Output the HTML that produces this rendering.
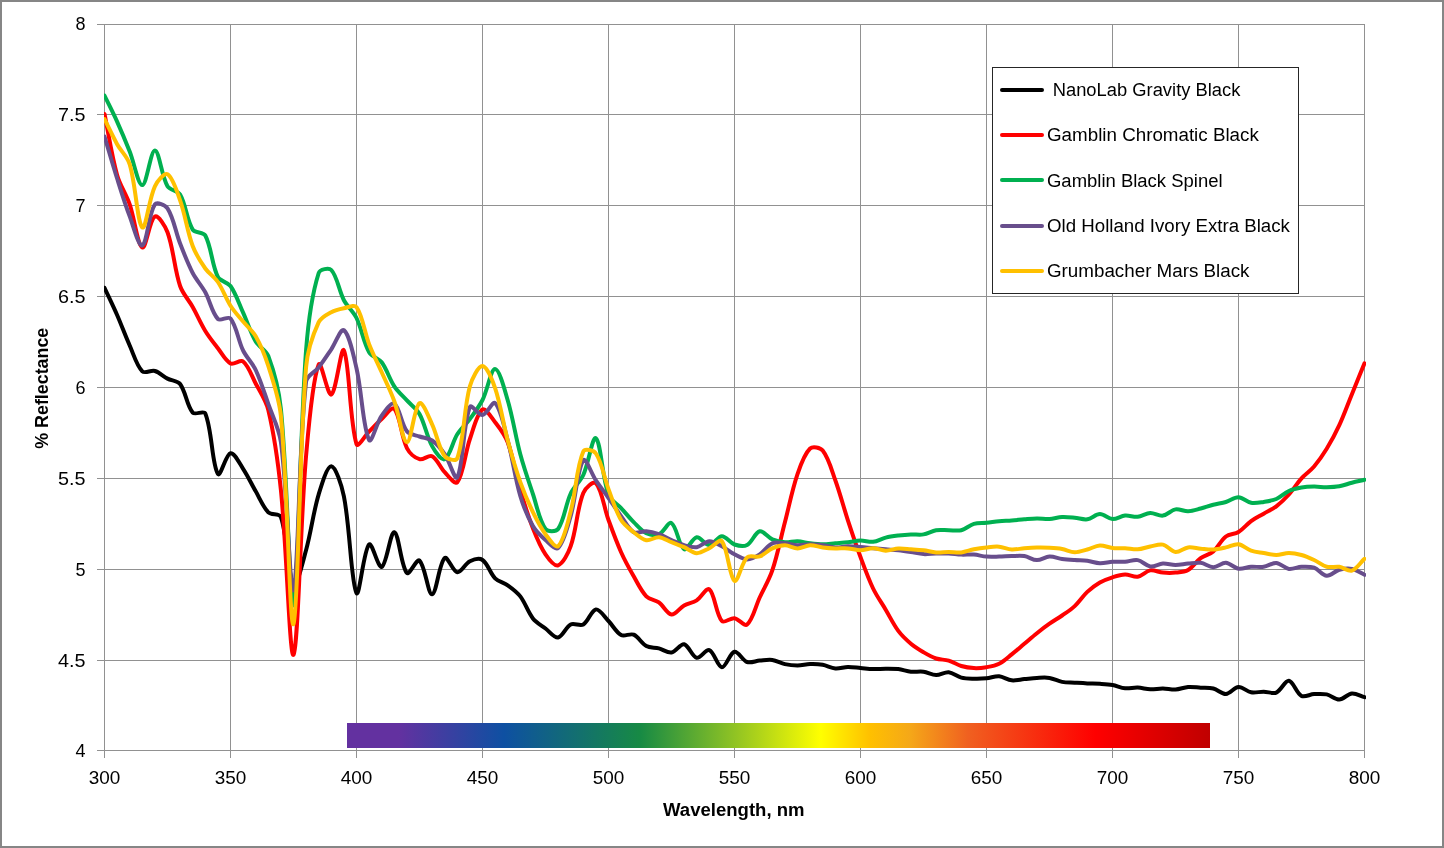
<!DOCTYPE html>
<html><head><meta charset="utf-8"><title>% Reflectance vs Wavelength</title>
<style>
html,body{margin:0;padding:0;background:#fff;}
svg{display:block;will-change:transform;}
text{font-family:"Liberation Sans",Arial,sans-serif;fill:#000;}
</style></head><body>
<svg width="1444" height="848" viewBox="0 0 1444 848">
<rect x="0" y="0" width="1444" height="848" fill="#fff"/>
<defs><linearGradient id="spec" x1="0" y1="0" x2="1" y2="0">
<stop offset="0.000" stop-color="#6331A0"/>
<stop offset="0.060" stop-color="#6331A0"/>
<stop offset="0.182" stop-color="#0E50A2"/>
<stop offset="0.340" stop-color="#178A44"/>
<stop offset="0.451" stop-color="#92C423"/>
<stop offset="0.549" stop-color="#FFFF00"/>
<stop offset="0.606" stop-color="#FFC000"/>
<stop offset="0.652" stop-color="#F5A818"/>
<stop offset="0.720" stop-color="#F06020"/>
<stop offset="0.867" stop-color="#FF0000"/>
<stop offset="1.000" stop-color="#C00000"/>
</linearGradient><clipPath id="pa"><rect x="104" y="0" width="1262" height="848"/></clipPath></defs>
<path d="M97 24.5H1365 M97 114.5H1365 M97 205.5H1365 M97 296.5H1365 M97 387.5H1365 M97 478.5H1365 M97 569.5H1365 M97 660.5H1365 M97 750.5H1365 M104.5 24V758 M230.5 24V758 M356.5 24V758 M482.5 24V758 M608.5 24V758 M734.5 24V758 M860.5 24V758 M986.5 24V758 M1112.5 24V758 M1238.5 24V758 M1364.5 24V758" stroke="#919191" stroke-width="1" fill="none"/>
<rect x="347" y="723" width="863" height="25" fill="url(#spec)"/>
<g clip-path="url(#pa)">
<path d="M104.50 287.80 C108.70 296.87 113.10 305.85 117.10 315.00 C121.50 325.08 125.21 335.46 129.70 345.50 C133.61 354.23 136.46 365.39 142.30 371.30 C144.86 373.89 151.02 369.88 154.90 371.00 C159.42 372.31 163.15 376.36 167.50 378.60 C171.55 380.69 177.54 380.54 180.10 384.00 C185.94 391.88 186.72 405.57 192.70 412.60 C195.12 415.44 203.87 410.12 205.30 413.60 C212.27 430.59 211.87 464.53 217.90 474.00 C220.27 477.73 225.90 454.15 230.50 453.20 C234.30 452.42 239.43 463.24 243.10 468.80 C247.83 475.94 251.39 483.86 255.70 491.30 C259.79 498.36 262.88 506.77 268.30 512.30 C271.28 515.34 279.53 513.05 280.90 517.00 C287.93 537.29 288.04 577.85 293.50 585.00 C296.44 588.85 302.79 561.93 306.10 550.00 C311.19 531.69 313.24 512.45 318.70 494.30 C321.64 484.51 327.22 465.88 331.30 466.20 C335.62 466.54 341.79 485.70 343.90 496.30 C350.19 527.97 350.95 582.42 356.50 593.00 C359.35 598.45 363.56 550.12 369.10 544.40 C371.96 541.45 378.24 568.67 381.70 567.00 C386.64 564.61 390.40 531.27 394.30 532.20 C398.80 533.27 400.96 566.31 406.90 573.00 C409.36 575.77 416.73 558.26 419.50 560.60 C425.13 565.36 428.04 594.72 432.10 594.30 C436.44 593.85 439.09 562.90 444.70 558.00 C447.49 555.57 452.83 571.71 457.30 572.30 C461.23 572.81 465.12 563.63 469.90 561.30 C473.52 559.53 479.45 557.94 482.50 560.00 C487.85 563.61 490.01 573.18 495.10 578.30 C498.41 581.62 503.82 582.51 507.70 585.30 C512.22 588.55 516.95 592.00 520.30 596.40 C525.35 603.04 527.77 611.86 532.90 618.40 C536.17 622.56 541.21 625.25 545.50 628.50 C549.61 631.62 554.23 638.11 558.10 637.50 C562.63 636.78 565.75 627.06 570.70 624.50 C574.15 622.72 580.02 626.47 583.30 624.50 C588.42 621.43 591.41 610.02 595.90 609.40 C599.81 608.86 604.50 616.94 608.50 621.00 C612.90 625.47 616.07 632.26 621.10 635.00 C624.47 636.83 630.11 633.13 633.70 634.70 C638.51 636.80 641.52 643.40 646.30 646.00 C649.92 647.97 654.77 647.33 658.90 648.40 C663.17 649.50 667.57 653.15 671.50 652.50 C675.97 651.75 680.33 643.41 684.10 644.20 C688.73 645.17 692.02 656.71 696.70 657.80 C700.42 658.67 705.86 648.82 709.30 650.10 C714.26 651.95 717.57 666.93 721.90 667.20 C725.97 667.46 729.87 652.66 734.50 651.70 C738.27 650.92 742.38 660.33 747.10 662.00 C750.78 663.30 755.49 660.95 759.70 660.60 C763.89 660.25 768.21 659.33 772.30 659.90 C776.61 660.50 780.60 663.14 784.90 664.10 C789.00 665.01 793.30 665.50 797.50 665.50 C801.70 665.50 805.89 664.22 810.10 664.10 C814.29 663.98 818.58 664.10 822.70 664.80 C826.98 665.53 831.03 668.03 835.30 668.40 C839.43 668.76 843.69 667.07 847.90 667.00 C852.09 666.93 856.30 667.65 860.50 668.00 C864.70 668.35 868.89 668.98 873.10 669.10 C877.29 669.22 881.50 668.70 885.70 668.70 C889.90 668.70 894.14 668.61 898.30 669.10 C902.54 669.61 906.66 671.26 910.90 671.70 C915.06 672.13 919.37 671.14 923.50 671.70 C927.77 672.28 931.88 675.00 936.10 675.10 C940.28 675.20 944.62 671.90 948.70 672.30 C953.02 672.73 956.94 676.49 961.30 677.60 C965.34 678.63 969.69 678.58 973.90 678.70 C978.09 678.82 982.33 678.70 986.50 678.30 C990.73 677.90 994.97 675.97 999.10 676.30 C1003.37 676.64 1007.41 679.82 1011.70 680.30 C1015.81 680.76 1020.10 679.50 1024.30 679.10 C1028.50 678.70 1032.69 678.10 1036.90 677.90 C1041.09 677.70 1045.40 677.25 1049.50 677.90 C1053.80 678.58 1057.80 681.08 1062.10 681.90 C1066.20 682.68 1070.50 682.45 1074.70 682.70 C1078.90 682.95 1083.10 683.22 1087.30 683.40 C1091.50 683.58 1095.71 683.53 1099.90 683.80 C1104.11 684.07 1108.36 684.26 1112.50 685.00 C1116.76 685.76 1120.83 687.86 1125.10 688.30 C1129.23 688.73 1133.52 687.43 1137.70 687.60 C1141.92 687.77 1146.09 689.15 1150.30 689.30 C1154.49 689.45 1158.70 688.45 1162.90 688.50 C1167.10 688.55 1171.34 689.85 1175.50 689.60 C1179.74 689.35 1183.86 687.32 1188.10 687.00 C1192.26 686.69 1196.50 687.45 1200.70 687.70 C1204.90 687.95 1209.28 687.49 1213.30 688.50 C1217.68 689.59 1221.80 694.24 1225.90 694.00 C1230.20 693.74 1234.19 687.29 1238.50 687.00 C1242.59 686.72 1246.73 691.49 1251.10 692.30 C1255.13 693.05 1259.50 691.65 1263.70 691.70 C1267.90 691.75 1272.75 694.14 1276.30 692.60 C1281.15 690.50 1284.97 680.29 1288.90 680.80 C1293.37 681.39 1296.40 693.21 1301.50 695.90 C1304.80 697.64 1309.88 694.35 1314.10 694.10 C1318.28 693.85 1322.66 693.53 1326.70 694.40 C1331.06 695.33 1335.16 699.65 1339.30 699.50 C1343.56 699.35 1347.57 693.89 1351.90 693.50 C1355.97 693.13 1360.30 695.97 1364.50 697.20" stroke="#000000" stroke-width="4" fill="none" stroke-linejoin="round" stroke-linecap="round"/>
<path d="M104.50 114.00 C108.70 134.33 111.55 155.09 117.10 175.00 C119.95 185.22 126.21 194.35 129.70 204.40 C134.61 218.51 137.49 245.21 142.30 247.50 C145.89 249.21 149.67 219.56 154.90 216.40 C158.07 214.49 165.24 226.06 167.50 232.30 C173.64 249.26 174.28 268.76 180.10 286.00 C182.68 293.66 188.71 299.88 192.70 307.00 C197.11 314.88 200.61 323.31 205.30 331.00 C209.01 337.07 213.52 342.67 217.90 348.30 C221.92 353.47 225.40 360.73 230.50 363.40 C233.80 365.13 240.29 359.26 243.10 361.50 C248.69 365.96 251.81 376.01 255.70 383.50 C260.21 392.17 266.07 400.56 268.30 410.00 C274.47 436.06 278.14 463.17 280.90 490.00 C286.54 544.73 289.70 659.89 293.50 654.70 C298.10 648.43 300.35 521.81 306.10 455.60 C308.75 425.08 312.50 379.54 318.70 364.50 C320.90 359.18 327.82 396.46 331.30 394.50 C336.22 391.73 341.15 344.90 343.90 350.30 C349.55 361.43 349.43 421.32 356.50 444.10 C357.83 448.39 364.89 435.69 369.10 431.50 C373.29 427.32 377.32 422.96 381.70 419.00 C385.72 415.36 391.93 405.96 394.30 408.70 C400.33 415.66 400.93 436.13 406.90 448.10 C409.33 452.96 414.76 457.68 419.50 459.20 C423.16 460.38 428.83 454.52 432.10 456.20 C437.23 458.85 440.01 467.36 444.70 472.20 C448.41 476.02 455.09 485.11 457.30 482.20 C463.49 474.05 465.00 453.15 469.90 439.00 C473.40 428.91 477.11 413.10 482.50 409.50 C485.51 407.50 491.49 417.50 495.10 422.20 C499.89 428.43 504.97 434.96 507.70 442.30 C513.37 457.56 515.67 474.23 520.30 490.00 C524.07 502.86 528.02 515.74 532.90 528.20 C536.42 537.18 540.17 546.46 545.50 554.30 C548.57 558.83 554.55 566.44 558.10 565.30 C562.95 563.74 568.22 553.31 570.70 546.20 C576.62 529.21 576.80 509.25 583.30 493.00 C585.20 488.25 593.46 480.58 595.90 483.20 C601.86 489.58 604.05 507.82 608.50 520.00 C612.45 530.82 616.40 541.70 621.10 552.20 C624.80 560.46 629.21 568.44 633.70 576.30 C637.61 583.14 641.02 590.84 646.30 596.30 C649.42 599.54 655.16 599.70 658.90 602.40 C663.56 605.77 667.05 613.97 671.50 614.50 C675.45 614.97 679.61 607.91 684.10 605.40 C688.01 603.21 692.95 602.80 696.70 600.40 C701.35 597.43 706.53 587.03 709.30 589.30 C714.93 593.90 715.81 614.01 721.90 621.00 C724.21 623.64 730.48 617.64 734.50 618.20 C738.88 618.81 744.40 626.72 747.10 624.50 C752.80 619.82 755.51 606.50 759.70 597.50 C763.91 588.47 769.15 579.81 772.30 570.40 C777.55 554.74 780.70 538.33 784.90 522.30 C789.10 506.23 792.16 489.74 797.50 474.10 C800.56 465.14 804.30 453.94 810.10 448.50 C812.70 446.07 820.32 447.51 822.70 450.50 C828.72 458.07 831.65 470.10 835.30 480.20 C840.05 493.36 843.53 506.99 847.90 520.30 C851.93 532.59 856.02 544.87 860.50 557.00 C864.42 567.60 868.24 578.33 873.10 588.50 C876.64 595.89 881.50 602.63 885.70 609.70 C889.90 616.77 893.44 624.34 898.30 630.90 C901.84 635.68 906.35 639.85 910.90 643.70 C914.75 646.95 919.14 649.64 923.50 652.20 C927.54 654.57 931.69 657.03 936.10 658.50 C940.09 659.83 944.65 659.39 948.70 660.60 C953.05 661.89 956.95 664.71 961.30 666.00 C965.35 667.21 969.68 667.90 973.90 668.10 C978.08 668.30 982.37 667.90 986.50 667.20 C990.77 666.47 995.29 665.74 999.10 663.80 C1003.69 661.47 1007.60 657.66 1011.70 654.40 C1016.00 650.99 1020.10 647.33 1024.30 643.80 C1028.50 640.27 1032.61 636.62 1036.90 633.20 C1041.01 629.92 1045.20 626.72 1049.50 623.70 C1053.60 620.82 1057.99 618.37 1062.10 615.50 C1066.39 612.50 1070.90 609.66 1074.70 606.10 C1079.30 601.80 1082.70 596.20 1087.30 591.90 C1091.10 588.34 1095.40 585.11 1099.90 582.50 C1103.80 580.24 1108.19 578.67 1112.50 577.30 C1116.59 576.00 1120.88 574.60 1125.10 574.50 C1129.28 574.40 1133.70 577.35 1137.70 576.70 C1142.10 575.98 1145.90 571.12 1150.30 570.40 C1154.30 569.75 1158.67 572.23 1162.90 572.60 C1167.07 572.96 1171.35 573.04 1175.50 572.60 C1179.75 572.14 1184.50 571.96 1188.10 569.90 C1192.90 567.16 1196.12 561.56 1200.70 558.20 C1204.52 555.40 1209.75 554.46 1213.30 551.40 C1218.15 547.23 1220.92 540.34 1225.90 536.50 C1229.32 533.87 1234.76 534.29 1238.50 532.00 C1243.16 529.15 1246.62 524.35 1251.10 521.10 C1255.02 518.25 1259.50 516.17 1263.70 513.70 C1267.90 511.23 1272.45 509.23 1276.30 506.30 C1280.85 502.83 1285.06 498.76 1288.90 494.50 C1293.46 489.43 1296.94 483.37 1301.50 478.30 C1305.34 474.04 1310.38 470.85 1314.10 466.50 C1318.78 461.02 1322.94 454.97 1326.70 448.80 C1331.34 441.20 1335.57 433.29 1339.30 425.20 C1343.97 415.09 1347.69 404.53 1351.90 394.20 C1356.09 383.90 1360.30 373.60 1364.50 363.30" stroke="#FF0000" stroke-width="4" fill="none" stroke-linejoin="round" stroke-linecap="round"/>
<path d="M104.50 95.50 C108.70 104.20 113.14 112.79 117.10 121.60 C121.54 131.46 125.71 141.45 129.70 151.50 C134.11 162.62 138.15 185.26 142.30 185.10 C146.55 184.93 150.76 150.32 154.90 150.50 C159.16 150.69 161.49 175.71 167.50 186.20 C169.89 190.38 177.68 190.33 180.10 194.50 C186.08 204.80 186.58 219.65 192.70 229.60 C194.98 233.31 203.26 231.66 205.30 235.50 C211.66 247.46 211.71 264.60 217.90 277.00 C220.11 281.43 227.60 281.91 230.50 286.00 C236.00 293.78 239.04 303.67 243.10 312.60 C247.44 322.17 250.48 332.51 255.70 341.50 C258.88 346.98 266.11 350.13 268.30 356.00 C274.51 372.63 279.08 390.98 280.90 409.00 C287.48 473.98 289.85 613.55 293.50 605.00 C298.25 593.88 299.67 434.76 306.10 350.00 C308.07 324.10 311.50 295.87 318.70 273.00 C319.90 269.20 328.92 267.43 331.30 270.00 C337.32 276.50 338.86 290.60 343.90 300.20 C347.26 306.60 353.36 311.51 356.50 318.00 C361.76 328.84 363.28 341.97 369.10 352.20 C371.68 356.73 378.56 358.06 381.70 362.30 C386.96 369.42 389.35 378.82 394.30 386.30 C397.75 391.52 402.66 395.74 406.90 400.40 C411.06 404.97 416.56 408.67 419.50 414.00 C424.96 423.91 426.60 436.23 432.10 446.10 C435.00 451.30 441.39 460.75 444.70 459.20 C449.79 456.82 452.39 442.14 457.30 434.30 C460.79 428.74 465.99 424.32 469.90 419.00 C474.39 412.88 479.09 406.75 482.50 400.00 C487.49 390.12 490.91 369.07 495.10 369.10 C499.31 369.13 504.54 389.50 507.70 400.20 C512.94 417.90 515.50 436.43 520.30 454.30 C523.90 467.70 528.46 480.85 532.90 494.00 C536.86 505.75 539.23 520.29 545.50 529.00 C547.63 531.95 555.99 531.97 558.10 529.00 C564.39 520.13 565.43 504.79 570.70 493.50 C573.83 486.79 580.23 481.73 583.30 475.00 C588.63 463.33 592.54 435.63 595.90 438.30 C600.94 442.30 602.10 477.28 608.50 495.00 C610.50 500.55 616.97 503.66 621.10 508.10 C625.37 512.70 629.26 517.68 633.70 522.10 C637.66 526.04 641.51 530.90 646.30 533.20 C649.91 534.93 655.29 535.65 658.90 534.20 C663.69 532.28 668.42 521.27 671.50 523.10 C676.82 526.27 678.85 546.26 684.10 549.20 C687.25 550.96 692.18 537.92 696.70 537.20 C700.58 536.58 705.18 545.36 709.30 545.20 C713.58 545.03 717.65 536.32 721.90 536.20 C726.05 536.08 729.92 542.90 734.50 544.50 C738.32 545.84 743.71 546.78 747.10 545.00 C752.11 542.38 755.04 532.35 759.70 531.30 C763.44 530.45 767.80 537.34 772.30 539.30 C776.20 541.00 780.65 541.96 784.90 542.30 C789.05 542.63 793.32 541.13 797.50 541.30 C801.72 541.47 805.88 542.80 810.10 543.30 C814.28 543.80 818.50 544.30 822.70 544.30 C826.90 544.30 831.10 543.63 835.30 543.30 C839.50 542.97 843.71 542.77 847.90 542.30 C852.11 541.83 856.29 540.58 860.50 540.50 C864.69 540.42 869.00 542.27 873.10 541.80 C877.40 541.31 881.42 538.67 885.70 537.60 C889.82 536.57 894.08 536.04 898.30 535.50 C902.48 534.97 906.69 534.58 910.90 534.40 C915.09 534.22 919.41 535.08 923.50 534.40 C927.81 533.68 931.79 530.92 936.10 530.20 C940.19 529.52 944.50 530.20 948.70 530.20 C952.90 530.20 957.34 531.21 961.30 530.20 C965.74 529.07 969.47 525.10 973.90 523.80 C977.87 522.64 982.31 523.23 986.50 522.80 C990.71 522.37 994.89 521.58 999.10 521.20 C1003.29 520.82 1007.51 520.82 1011.70 520.50 C1015.91 520.18 1020.10 519.65 1024.30 519.30 C1028.50 518.95 1032.70 518.47 1036.90 518.40 C1041.10 518.33 1045.32 519.13 1049.50 518.90 C1053.72 518.67 1057.88 517.20 1062.10 517.00 C1066.28 516.80 1070.51 517.32 1074.70 517.70 C1078.91 518.08 1083.25 519.88 1087.30 519.30 C1091.65 518.68 1095.69 514.13 1099.90 514.10 C1104.09 514.07 1108.22 518.85 1112.50 519.10 C1116.62 519.35 1120.83 516.01 1125.10 515.60 C1129.23 515.21 1133.58 517.14 1137.70 516.70 C1141.98 516.24 1146.06 513.09 1150.30 512.90 C1154.46 512.72 1158.88 516.16 1162.90 515.60 C1167.28 514.99 1171.10 510.15 1175.50 509.40 C1179.50 508.72 1183.93 511.45 1188.10 511.30 C1192.33 511.15 1196.54 509.59 1200.70 508.50 C1204.94 507.39 1209.06 505.79 1213.30 504.70 C1217.46 503.63 1221.79 503.21 1225.90 502.00 C1230.19 500.74 1234.35 497.17 1238.50 497.30 C1242.75 497.43 1246.72 502.00 1251.10 502.80 C1255.12 503.53 1259.55 502.53 1263.70 501.90 C1267.95 501.26 1272.40 500.69 1276.30 499.00 C1280.80 497.05 1284.42 493.04 1288.90 491.00 C1292.82 489.21 1297.23 488.25 1301.50 487.50 C1305.63 486.78 1309.90 486.65 1314.10 486.60 C1318.30 486.55 1322.50 487.25 1326.70 487.20 C1330.90 487.15 1335.18 487.04 1339.30 486.30 C1343.58 485.54 1347.67 483.79 1351.90 482.70 C1356.07 481.62 1360.30 480.77 1364.50 479.80" stroke="#00B050" stroke-width="4" fill="none" stroke-linejoin="round" stroke-linecap="round"/>
<path d="M104.50 136.50 C108.70 150.50 112.70 164.56 117.10 178.50 C121.10 191.20 125.02 203.95 129.70 216.40 C133.42 226.28 138.73 247.20 142.30 245.50 C147.13 243.20 148.48 213.86 154.90 204.40 C156.88 201.49 165.30 204.99 167.50 208.40 C173.70 218.02 175.58 231.92 180.10 243.50 C183.98 253.46 187.81 263.53 192.70 273.00 C196.21 279.80 201.62 285.58 205.30 292.30 C210.02 300.91 212.01 312.88 217.90 319.00 C220.41 321.61 228.25 315.68 230.50 318.50 C236.65 326.18 238.09 340.25 243.10 350.50 C246.49 357.42 252.42 363.04 255.70 370.00 C260.82 380.87 264.31 392.59 268.30 404.00 C272.71 416.59 279.12 428.84 280.90 442.00 C287.52 490.84 290.01 598.38 293.50 590.00 C298.41 578.21 298.40 449.54 306.10 381.50 C306.80 375.34 314.82 372.35 318.70 367.40 C323.22 361.62 327.18 355.39 331.30 349.30 C335.58 342.99 340.85 327.90 343.90 330.20 C349.25 334.23 353.52 355.29 356.50 368.30 C361.92 391.89 363.00 428.52 369.10 440.00 C371.40 444.32 376.56 423.10 381.70 415.70 C384.96 411.00 391.24 401.80 394.30 403.70 C399.64 407.00 401.10 423.76 406.90 431.30 C409.50 434.69 415.24 434.94 419.50 436.50 C423.64 438.01 428.61 438.05 432.10 440.50 C437.01 443.95 441.21 449.12 444.70 454.20 C449.61 461.36 455.04 481.43 457.30 477.20 C463.44 465.70 462.95 424.15 469.90 407.00 C471.35 403.41 478.61 415.59 482.50 415.00 C487.01 414.32 492.53 400.62 495.10 403.20 C500.93 409.05 504.28 427.71 507.70 440.30 C512.68 458.65 514.95 477.80 520.30 496.00 C523.35 506.37 527.58 516.71 532.90 526.00 C535.98 531.38 540.81 535.91 545.50 540.00 C549.21 543.24 555.56 550.42 558.10 548.00 C563.96 542.42 567.54 526.99 570.70 516.00 C575.94 497.75 577.37 468.68 583.30 460.30 C585.77 456.82 591.51 473.83 595.90 480.40 C599.91 486.40 604.34 492.11 608.50 498.00 C612.74 504.01 616.74 510.18 621.10 516.10 C625.14 521.58 628.51 529.09 633.70 532.20 C636.91 534.12 642.15 530.87 646.30 531.20 C650.55 531.54 654.86 532.76 658.90 534.20 C663.26 535.76 667.24 538.34 671.50 540.20 C675.64 542.01 679.77 544.00 684.10 545.20 C688.17 546.33 692.69 547.84 696.70 547.20 C701.09 546.50 705.04 541.37 709.30 541.20 C713.44 541.04 717.91 544.13 721.90 546.20 C726.31 548.49 730.10 551.99 734.50 554.30 C738.50 556.39 742.89 559.38 747.10 559.40 C751.29 559.42 755.95 556.80 759.70 554.40 C764.35 551.43 767.50 545.41 772.30 543.30 C775.90 541.71 780.73 542.97 784.90 543.30 C789.13 543.64 793.28 545.13 797.50 545.30 C801.68 545.47 805.90 544.30 810.10 544.30 C814.30 544.30 818.52 544.79 822.70 545.30 C826.92 545.82 831.08 547.23 835.30 547.40 C839.48 547.57 843.70 546.37 847.90 546.30 C852.10 546.23 856.31 546.68 860.50 547.00 C864.71 547.32 868.90 547.82 873.10 548.20 C877.30 548.58 881.50 548.95 885.70 549.30 C889.90 549.65 894.11 549.85 898.30 550.30 C902.51 550.75 906.71 551.37 910.90 552.00 C915.11 552.63 919.27 553.85 923.50 554.10 C927.67 554.35 931.90 553.60 936.10 553.50 C940.30 553.40 944.51 553.32 948.70 553.50 C952.91 553.68 957.09 554.42 961.30 554.60 C965.49 554.78 969.73 554.27 973.90 554.60 C978.13 554.94 982.27 556.26 986.50 556.60 C990.67 556.93 994.90 556.68 999.10 556.60 C1003.30 556.52 1007.50 556.18 1011.70 556.10 C1015.90 556.02 1020.20 555.45 1024.30 556.10 C1028.60 556.78 1032.68 560.02 1036.90 560.10 C1041.08 560.18 1045.26 556.80 1049.50 556.60 C1053.66 556.40 1057.88 558.31 1062.10 558.90 C1066.28 559.48 1070.49 559.78 1074.70 560.10 C1078.89 560.42 1083.13 560.29 1087.30 560.80 C1091.53 561.32 1095.68 563.03 1099.90 563.20 C1104.08 563.37 1108.29 562.05 1112.50 561.80 C1116.69 561.55 1120.92 561.98 1125.10 561.70 C1129.32 561.42 1133.72 559.36 1137.70 560.10 C1142.12 560.92 1145.92 565.79 1150.30 566.40 C1154.32 566.96 1158.66 563.84 1162.90 563.60 C1167.06 563.37 1171.30 565.00 1175.50 565.00 C1179.70 565.00 1183.89 563.97 1188.10 563.60 C1192.29 563.23 1196.62 562.22 1200.70 562.80 C1205.02 563.42 1209.10 567.20 1213.30 567.20 C1217.50 567.20 1221.79 562.56 1225.90 562.80 C1230.19 563.06 1234.12 568.00 1238.50 568.70 C1242.52 569.34 1246.88 567.12 1251.10 566.80 C1255.28 566.49 1259.59 567.42 1263.70 566.80 C1267.99 566.15 1272.22 562.66 1276.30 563.00 C1280.62 563.36 1284.52 568.24 1288.90 568.90 C1292.92 569.51 1297.28 567.00 1301.50 566.80 C1305.68 566.60 1310.25 566.34 1314.10 567.70 C1318.65 569.31 1322.35 575.34 1326.70 575.70 C1330.75 576.04 1334.90 570.99 1339.30 569.80 C1343.30 568.72 1347.90 568.11 1351.90 568.90 C1356.30 569.77 1360.30 572.83 1364.50 574.80" stroke="#684E8C" stroke-width="4" fill="none" stroke-linejoin="round" stroke-linecap="round"/>
<path d="M104.50 119.10 C108.70 127.47 112.55 136.03 117.10 144.20 C120.95 151.10 127.44 156.83 129.70 164.30 C135.84 184.56 137.26 223.00 142.30 227.40 C145.66 230.34 148.92 198.90 154.90 186.30 C157.32 181.20 164.35 172.54 167.50 174.30 C172.75 177.24 176.91 191.32 180.10 200.40 C185.31 215.22 187.26 231.31 192.70 246.00 C195.66 254.01 200.41 261.51 205.30 268.50 C208.81 273.51 214.48 276.95 217.90 282.00 C222.88 289.35 225.72 298.18 230.50 305.70 C234.12 311.38 238.79 316.39 243.10 321.60 C247.19 326.55 252.56 330.67 255.70 336.20 C260.96 345.47 265.06 355.74 268.30 366.00 C273.46 382.34 279.23 398.94 280.90 416.00 C287.63 484.94 289.74 631.31 293.50 624.00 C298.14 614.98 298.99 452.19 306.10 367.00 C307.39 351.59 312.46 335.77 318.70 322.20 C320.86 317.51 326.69 314.76 331.30 312.20 C335.09 310.09 339.61 309.07 343.90 308.20 C348.01 307.37 354.45 304.17 356.50 307.10 C362.85 316.17 364.40 332.03 369.10 344.20 C372.80 353.76 377.55 362.91 381.70 372.30 C385.95 381.91 390.74 391.33 394.30 401.20 C399.14 414.60 402.60 441.76 406.90 442.10 C411.00 442.43 414.25 406.91 419.50 403.20 C422.65 400.97 428.59 416.93 432.10 424.30 C436.99 434.59 438.58 447.96 444.70 456.20 C446.98 459.26 456.05 461.67 457.30 458.20 C464.45 438.37 463.57 409.45 469.90 386.30 C471.97 378.72 478.43 365.71 482.50 366.00 C486.83 366.31 492.40 380.14 495.10 388.10 C500.80 404.91 503.07 423.02 507.70 440.30 C511.47 454.38 515.48 468.46 520.30 482.20 C523.88 492.39 528.19 502.38 532.90 512.10 C536.59 519.72 540.51 527.45 545.50 534.20 C548.91 538.82 555.42 548.64 558.10 546.20 C563.82 541.00 567.53 523.23 570.70 511.30 C575.93 491.66 576.35 467.44 583.30 451.50 C584.75 448.17 593.78 450.33 595.90 453.50 C602.18 462.90 604.04 477.40 608.50 489.20 C612.44 499.60 615.59 510.69 621.10 520.10 C623.99 525.03 629.17 528.59 633.70 532.20 C637.57 535.29 641.80 539.31 646.30 540.20 C650.20 540.97 654.80 536.87 658.90 537.20 C663.20 537.54 667.30 540.53 671.50 542.20 C675.70 543.87 679.96 545.39 684.10 547.20 C688.36 549.06 692.44 553.03 696.70 553.20 C700.84 553.36 705.23 550.14 709.30 548.20 C713.63 546.14 719.74 538.40 721.90 541.20 C728.14 549.27 729.38 577.51 734.50 580.80 C737.78 582.91 741.41 562.91 747.10 557.40 C749.81 554.78 755.85 557.78 759.70 556.40 C764.25 554.78 767.81 550.38 772.30 548.40 C776.21 546.68 780.70 545.30 784.90 545.30 C789.10 545.30 793.30 548.40 797.50 548.40 C801.70 548.40 805.87 545.47 810.10 545.30 C814.27 545.13 818.48 546.88 822.70 547.40 C826.88 547.91 831.09 548.23 835.30 548.40 C839.49 548.57 843.72 548.09 847.90 548.40 C852.12 548.72 856.31 550.33 860.50 550.30 C864.71 550.27 868.91 548.13 873.10 548.20 C877.31 548.27 881.49 550.63 885.70 550.70 C889.89 550.77 894.07 548.83 898.30 548.60 C902.47 548.37 906.70 549.02 910.90 549.30 C915.10 549.58 919.32 549.79 923.50 550.30 C927.72 550.82 931.87 552.11 936.10 552.40 C940.27 552.68 944.50 552.00 948.70 552.00 C952.90 552.00 957.16 552.84 961.30 552.40 C965.56 551.94 969.66 550.14 973.90 549.30 C978.06 548.47 982.28 547.84 986.50 547.40 C990.68 546.97 994.95 546.35 999.10 546.70 C1003.35 547.05 1007.46 549.23 1011.70 549.50 C1015.86 549.76 1020.09 548.62 1024.30 548.30 C1028.49 547.98 1032.70 547.68 1036.90 547.60 C1041.10 547.52 1045.31 547.57 1049.50 547.80 C1053.71 548.03 1057.96 548.26 1062.10 549.00 C1066.36 549.76 1070.48 552.22 1074.70 552.30 C1078.88 552.38 1083.15 550.62 1087.30 549.50 C1091.55 548.35 1095.64 545.75 1099.90 545.50 C1104.04 545.25 1108.26 547.55 1112.50 548.00 C1116.66 548.45 1120.91 547.98 1125.10 548.20 C1129.31 548.42 1133.54 549.58 1137.70 549.30 C1141.94 549.01 1146.07 547.29 1150.30 546.50 C1154.47 545.72 1158.99 543.75 1162.90 544.60 C1167.39 545.58 1171.12 551.51 1175.50 552.00 C1179.52 552.45 1183.78 547.97 1188.10 547.40 C1192.18 546.87 1196.49 548.35 1200.70 548.70 C1204.89 549.05 1209.12 549.72 1213.30 549.50 C1217.52 549.28 1221.74 548.28 1225.90 547.40 C1230.14 546.51 1234.48 543.69 1238.50 544.20 C1242.88 544.76 1246.70 549.06 1251.10 550.60 C1255.10 552.00 1259.49 552.26 1263.70 553.00 C1267.89 553.73 1272.10 555.00 1276.30 555.00 C1280.50 555.00 1284.70 553.00 1288.90 553.00 C1293.10 553.00 1297.43 553.87 1301.50 555.00 C1305.83 556.20 1310.01 558.09 1314.10 560.00 C1318.41 562.02 1322.23 565.59 1326.70 566.80 C1330.63 567.86 1335.19 566.18 1339.30 566.80 C1343.59 567.45 1348.27 571.75 1351.90 570.60 C1356.67 569.09 1360.30 562.73 1364.50 558.80" stroke="#FFC000" stroke-width="4" fill="none" stroke-linejoin="round" stroke-linecap="round"/>
</g>
<text x="85.5" y="29.5" font-size="18" text-anchor="end">8</text>
<text x="85.5" y="120.5" font-size="18" text-anchor="end" textLength="27.5" lengthAdjust="spacingAndGlyphs">7.5</text>
<text x="85.5" y="211.5" font-size="18" text-anchor="end">7</text>
<text x="85.5" y="302.5" font-size="18" text-anchor="end" textLength="27.5" lengthAdjust="spacingAndGlyphs">6.5</text>
<text x="85.5" y="393.5" font-size="18" text-anchor="end">6</text>
<text x="85.5" y="484.5" font-size="18" text-anchor="end" textLength="27.5" lengthAdjust="spacingAndGlyphs">5.5</text>
<text x="85.5" y="575.5" font-size="18" text-anchor="end">5</text>
<text x="85.5" y="666.5" font-size="18" text-anchor="end" textLength="27.5" lengthAdjust="spacingAndGlyphs">4.5</text>
<text x="85.5" y="756.5" font-size="18" text-anchor="end">4</text>
<text x="104.5" y="784.3" font-size="18" text-anchor="middle" textLength="31.6" lengthAdjust="spacingAndGlyphs">300</text>
<text x="230.5" y="784.3" font-size="18" text-anchor="middle" textLength="31.6" lengthAdjust="spacingAndGlyphs">350</text>
<text x="356.5" y="784.3" font-size="18" text-anchor="middle" textLength="31.6" lengthAdjust="spacingAndGlyphs">400</text>
<text x="482.5" y="784.3" font-size="18" text-anchor="middle" textLength="31.6" lengthAdjust="spacingAndGlyphs">450</text>
<text x="608.5" y="784.3" font-size="18" text-anchor="middle" textLength="31.6" lengthAdjust="spacingAndGlyphs">500</text>
<text x="734.5" y="784.3" font-size="18" text-anchor="middle" textLength="31.6" lengthAdjust="spacingAndGlyphs">550</text>
<text x="860.5" y="784.3" font-size="18" text-anchor="middle" textLength="31.6" lengthAdjust="spacingAndGlyphs">600</text>
<text x="986.5" y="784.3" font-size="18" text-anchor="middle" textLength="31.6" lengthAdjust="spacingAndGlyphs">650</text>
<text x="1112.5" y="784.3" font-size="18" text-anchor="middle" textLength="31.6" lengthAdjust="spacingAndGlyphs">700</text>
<text x="1238.5" y="784.3" font-size="18" text-anchor="middle" textLength="31.6" lengthAdjust="spacingAndGlyphs">750</text>
<text x="1364.5" y="784.3" font-size="18" text-anchor="middle" textLength="31.6" lengthAdjust="spacingAndGlyphs">800</text>
<text x="733.8" y="815.7" font-size="18" font-weight="bold" text-anchor="middle" textLength="141.5" lengthAdjust="spacingAndGlyphs">Wavelength, nm</text>
<text transform="translate(47.8 388.2) rotate(-90)" x="0" y="0" font-size="18" font-weight="bold" text-anchor="middle" textLength="121" lengthAdjust="spacingAndGlyphs">% Reflectance</text>
<rect x="992.5" y="67.5" width="306" height="226" fill="#fff" stroke="#262626" stroke-width="1"/>
<path d="M1002 90.0H1042" stroke="#000000" stroke-width="4" stroke-linecap="round"/>
<text x="1052.7" y="96.3" font-size="18" textLength="187.7" lengthAdjust="spacingAndGlyphs">NanoLab Gravity Black</text>
<path d="M1002 135.0H1042" stroke="#FF0000" stroke-width="4" stroke-linecap="round"/>
<text x="1047.0" y="141.4" font-size="18" textLength="211.8" lengthAdjust="spacingAndGlyphs">Gamblin Chromatic Black</text>
<path d="M1002 180.0H1042" stroke="#00B050" stroke-width="4" stroke-linecap="round"/>
<text x="1047.0" y="186.6" font-size="18" textLength="175.6" lengthAdjust="spacingAndGlyphs">Gamblin Black Spinel</text>
<path d="M1002 226.0H1042" stroke="#684E8C" stroke-width="4" stroke-linecap="round"/>
<text x="1047.0" y="231.9" font-size="18" textLength="242.9" lengthAdjust="spacingAndGlyphs">Old Holland Ivory Extra Black</text>
<path d="M1002 271.0H1042" stroke="#FFC000" stroke-width="4" stroke-linecap="round"/>
<text x="1047.0" y="277.2" font-size="18" textLength="202.5" lengthAdjust="spacingAndGlyphs">Grumbacher Mars Black</text>
<rect x="1" y="1" width="1442" height="846" fill="none" stroke="#868686" stroke-width="2"/>
</svg>
</body></html>
